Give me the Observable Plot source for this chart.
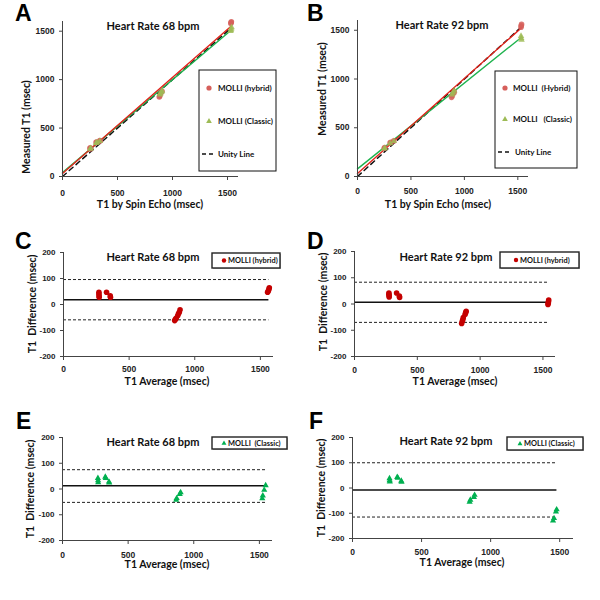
<!DOCTYPE html>
<html><head><meta charset="utf-8">
<script src="https://cdn.jsdelivr.net/npm/d3@7"></script>
<script src="https://cdn.jsdelivr.net/npm/@observablehq/plot@0.6"></script>
<style>
body{margin:0;background:#fff;}
#fig{position:relative;width:600px;height:600px;overflow:hidden;background:#fff;}
.panel{position:absolute;}
#overlay{position:absolute;left:0;top:0;pointer-events:none;}
#overlay text{white-space:pre;}
.letter{font-family:"Liberation Sans",Arial,sans-serif;font-weight:bold;font-size:23px;fill:#000;}
.title{font-family:Lato,"Open Sans",sans-serif;font-weight:bold;font-size:11px;fill:#111;text-anchor:middle;}
.axt{font-family:Lato,"Open Sans",sans-serif;font-weight:bold;font-size:10.5px;fill:#111;text-anchor:middle;}
.leg{font-family:Lato,"Open Sans",sans-serif;font-weight:bold;font-size:8px;fill:#111;}
.legs{font-family:Lato,"Open Sans",sans-serif;font-weight:bold;font-size:7.4px;fill:#111;}
</style>
</head><body>
<div id="fig"></div>
<script>
// ---------- shared ticks ----------
const ticksT1 = [0, 500, 1000, 1500];
const ticksDiff = [-200, -100, 0, 100, 200];

// ---------- Panel A: 68 bpm, measured vs spin echo ----------
const hybridA = [[250,290],[253,295],[256,285],[305,352],[312,355],[340,370],[344,368],[880,820],[884,830],[895,862],[905,880],[1530,1580],[1533,1590],[1535,1598]];
const classicA = [[252,285],[256,292],[305,345],[315,350],[340,365],[885,845],[890,855],[900,870],[905,885],[1528,1500],[1531,1512],[1534,1525],[1537,1540]];
const fitSeriesA = ["hybrid", "classic"];
const fitInterceptA = [30, 40];
const fitSlopeA = [0.992, 0.959];
const fitEndA = 1535;
const unityA = [0, 1530];

// ---------- Panel B: 92 bpm ----------
const hybridB = [[250,290],[255,296],[305,345],[312,350],[340,365],[880,812],[885,825],[900,855],[905,870],[1530,1532],[1532,1545],[1535,1560]];
const classicB = [[250,285],[256,290],[305,340],[340,362],[885,840],[895,860],[905,880],[1530,1440],[1532,1420],[1535,1402]];
const fitSeriesB = ["hybrid", "classic"];
const fitInterceptB = [30, 78];
const fitSlopeB = [0.975, 0.88];
const fitEndB = 1535;
const unityB = [0, 1530];

// ---------- Panel C: Bland-Altman hybrid 68 bpm ----------
const avgC  = [270, 270, 271, 272, 328, 356, 358, 847, 853, 858, 870, 876, 882, 888, 1555, 1560, 1565, 1568];
const diffC = [ 47,  40,  33,  28,  47,  33,  28, -62, -57, -53, -43, -36, -30, -20,   47,   52,   58,   64];
const statsC = {mean: 18, upper: 96, lower: -59, end: 1565};

// ---------- Panel D: Bland-Altman hybrid 92 bpm ----------
const avgD  = [274, 274, 275, 276, 335, 357, 359, 853, 858, 862, 866, 880, 885, 889, 1540, 1542, 1544, 1546];
const diffD = [ 42,  37,  31,  27,  42,  30,  25, -74, -66, -60, -52, -40, -33, -28,   -2,    3,    9,   15];
const statsD = {mean: 7, upper: 83, lower: -70, end: 1540};

// ---------- Panel E: Bland-Altman classic 68 bpm ----------
const avgE  = [270, 271, 272, 326, 330, 354, 356, 866, 870, 893, 900, 1522, 1526, 1537, 1548];
const diffE = [ 42,  33,  25,  47,  42,  28,  24, -43, -36, -20, -13,  -37,  -26,   -4,   14];
const statsE = {mean: 13, upper: 75, lower: -52, end: 1550};

// ---------- Panel F: Bland-Altman classic 92 bpm ----------
const avgF  = [268, 269, 270, 324, 328, 353, 355, 848, 853, 879, 884, 1452, 1459, 1473, 1478];
const diffF = [ 38,  30,  25,  43,  40,  28,  24, -55, -47, -36, -28, -130, -120,  -94,  -85];
const statsF = {mean: -8, upper: 100, lower: -115, end: 1480};

// ---------- colours ----------
const colHybridPt = "#d65f5b";
const colClassicPt = "#9dbb55";
const colHybridLine = "#e2231a";
const colClassicLine = "#1fb34f";
const colBAHybrid = "#c40000";
const colBAClassic = "#00b050";

const fig = document.getElementById("fig");
const plainFmt = d => String(d);

function place(svg, left, top) {
  const div = document.createElement("div");
  div.className = "panel";
  div.style.left = left + "px";
  div.style.top = top + "px";
  div.appendChild(svg);
  fig.appendChild(div);
}

function baseStyle() {
  return {fontFamily: "'Liberation Sans', Arial, sans-serif", fontSize: "8.5px", fontWeight: "bold", color: "#222", background: "transparent", overflow: "visible"};
}

function fitLines(series, intercepts, slopes, xEnd) {
  const out = [];
  series.forEach((s, i) => {
    [0, xEnd].forEach(x => out.push({series: s, x, y: intercepts[i] + slopes[i] * x}));
  });
  return out;
}

function scatterPanel(cfg) {
  const lines = fitLines(cfg.fitSeries, cfg.fitIntercept, cfg.fitSlope, cfg.fitEnd);
  const unity = cfg.unity.map(v => ({x: v, y: v}));
  return Plot.plot({
    width: cfg.width, height: cfg.height,
    marginLeft: cfg.ml, marginRight: cfg.mr, marginTop: cfg.mt, marginBottom: cfg.mb,
    x: {domain: [0, 1600]}, y: {domain: [0, 1600]},
    style: baseStyle(),
    marks: [
      Plot.line(unity, {x: "x", y: "y", stroke: "#111", strokeWidth: 1.5, strokeDasharray: "5,4"}),
      Plot.line(lines.filter(d => d.series === "classic"), {x: "x", y: "y", stroke: colClassicLine, strokeWidth: 1.4}),
      Plot.line(lines.filter(d => d.series === "hybrid"), {x: "x", y: "y", stroke: colHybridLine, strokeWidth: 1.4}),
      Plot.dot(cfg.hybrid, {x: d => d[0], y: d => d[1], r: 2.8, fill: colHybridPt, fillOpacity: 0.85}),
      Plot.dot(cfg.classic, {x: d => d[0], y: d => d[1], r: 2.4, symbol: "triangle", fill: colClassicPt, fillOpacity: 0.85}),
      Plot.ruleX([0], {stroke: "#444"}),
      Plot.ruleY([0], {stroke: "#444"}),
      Plot.axisY({ticks: ticksT1, tickFormat: plainFmt, tickSize: 3, tickPadding: 5, label: null, stroke: "#444"}),
      Plot.axisX({ticks: ticksT1, tickFormat: plainFmt, tickSize: 4, tickPadding: cfg.xPad, label: null, stroke: "#444"})
    ]
  });
}

function baPanel(cfg) {
  const pts = cfg.avg.map((a, i) => ({a, d: cfg.diff[i]}));
  const st = cfg.stats;
  const dotOpts = cfg.kind === "hybrid"
    ? {r: 2.8, fill: colBAHybrid}
    : {r: 2.3, symbol: "triangle", fill: colBAClassic};
  return Plot.plot({
    width: cfg.width, height: cfg.height,
    marginLeft: cfg.ml, marginRight: cfg.mr, marginTop: cfg.mt, marginBottom: cfg.mb,
    x: {domain: [0, 1600]}, y: {domain: [-200, 200]},
    style: baseStyle(),
    marks: [
      Plot.ruleY([st.upper, st.lower], {x1: 0, x2: st.end, stroke: "#222", strokeWidth: 1, strokeDasharray: "3,2"}),
      Plot.ruleY([st.mean], {x1: 0, x2: st.end, stroke: "#111", strokeWidth: 1.5}),
      Plot.dot(pts, {x: "a", y: "d", ...dotOpts}),
      Plot.ruleX([0], {stroke: "#444"}),
      Plot.ruleY([-200], {stroke: "#444"}),
      Plot.axisY({ticks: ticksDiff, tickFormat: plainFmt, tickSize: 3, tickPadding: 5, label: null, stroke: "#444", fontSize: 8}),
      Plot.axisX({ticks: ticksT1, tickFormat: plainFmt, tickSize: 4, tickPadding: cfg.xPad, label: null, stroke: "#444"})
    ]
  });
}

place(scatterPanel({width: 300, height: 215, ml: 62, mr: 62, mt: 21, mb: 39, xPad: 9,
  hybrid: hybridA, classic: classicA, fitSeries: fitSeriesA, fitIntercept: fitInterceptA, fitSlope: fitSlopeA, fitEnd: fitEndA, unity: unityA}), 0, 0);
place(scatterPanel({width: 300, height: 215, ml: 57, mr: 72, mt: 20, mb: 39, xPad: 7,
  hybrid: hybridB, classic: classicB, fitSeries: fitSeriesB, fitIntercept: fitInterceptB, fitSlope: fitSlopeB, fitEnd: fitEndB, unity: unityB}), 300, 0);
place(baPanel({width: 300, height: 160, ml: 63, mr: 27, mt: 22, mb: 34, xPad: 5, avg: avgC, diff: diffC, stats: statsC, kind: "hybrid"}), 0, 230);
place(baPanel({width: 300, height: 160, ml: 54, mr: 45, mt: 21, mb: 34, xPad: 6, avg: avgD, diff: diffD, stats: statsD, kind: "hybrid"}), 300, 230);
place(baPanel({width: 300, height: 160, ml: 62, mr: 28, mt: 22, mb: 35, xPad: 7, avg: avgE, diff: diffE, stats: statsE, kind: "classic"}), 0, 415);
place(baPanel({width: 300, height: 160, ml: 52, mr: 27, mt: 22, mb: 37, xPad: 6, avg: avgF, diff: diffF, stats: statsF, kind: "classic"}), 300, 415);

// ---------- overlay: panel letters, titles, axis titles, legends ----------
const NS = "http://www.w3.org/2000/svg";
const ov = document.createElementNS(NS, "svg");
ov.setAttribute("id", "overlay");
ov.setAttribute("width", 600);
ov.setAttribute("height", 600);
fig.appendChild(ov);

function el(tag, attrs, text) {
  const e = document.createElementNS(NS, tag);
  for (const k in attrs) e.setAttribute(k, attrs[k]);
  if (text != null) e.textContent = text;
  ov.appendChild(e);
  return e;
}
function tri(cx, cy, s, fill) {
  el("path", {d: `M${cx},${cy - s}L${cx + s * 0.95},${cy + s * 0.65}L${cx - s * 0.95},${cy + s * 0.65}Z`, fill});
}

const letters = [["A", 15, 21], ["B", 307, 21], ["C", 15, 249], ["D", 307, 249], ["E", 16, 429], ["F", 309, 429]];
letters.forEach(([t, x, y]) => el("text", {x, y, class: "letter"}, t));

const titles = [["Heart Rate 68 bpm", 153, 30], ["Heart Rate 92 bpm", 442, 29], ["Heart Rate 68 bpm", 153, 261],
  ["Heart Rate 92 bpm", 446, 261], ["Heart Rate 68 bpm", 153, 446], ["Heart Rate 92 bpm", 446, 445]];
titles.forEach(([t, x, y]) => el("text", {x, y, class: "title"}, t));

const xTitles = [["T1 by Spin Echo (msec)", 150, 208], ["T1 by Spin Echo (msec)", 438, 208], ["T1 Average (msec)", 167, 385],
  ["T1 Average (msec)", 455, 385], ["T1 Average (msec)", 167, 568], ["T1 Average (msec)", 462, 566]];
xTitles.forEach(([t, x, y]) => el("text", {x, y, class: "axt"}, t));

const yTitles = [["Measured T1 (msec)", 30, 127], ["Measured T1 (msec)", 326, 89], ["T1  Difference (msec)", 36, 304],
  ["T1  Difference (msec)", 327, 302], ["T1  Difference (msec)", 34, 489], ["T1  Difference (msec)", 325, 488]];
yTitles.forEach(([t, x, y]) => el("text", {x: 0, y: 0, class: "axt", transform: `translate(${x},${y}) rotate(-90)`}, t));

// legend A
el("rect", {x: 199, y: 70, width: 77, height: 101, fill: "#fff", stroke: "#111", "stroke-width": 1});
el("circle", {cx: 209, cy: 88, r: 2.6, fill: colHybridPt});
el("text", {x: 218, y: 91, class: "leg"}, "MOLLI (hybrid)");
tri(209, 121, 3, colClassicPt);
el("text", {x: 218, y: 124, class: "leg"}, "MOLLI (Classic)");
el("line", {x1: 202, x2: 213, y1: 154, y2: 154, stroke: "#111", "stroke-width": 1.5, "stroke-dasharray": "4,3"});
el("text", {x: 218, y: 157, class: "leg"}, "Unity Line");

// legend B
el("rect", {x: 495, y: 71, width: 82, height: 97, fill: "#fff", stroke: "#111", "stroke-width": 1});
el("circle", {cx: 505, cy: 88, r: 2.6, fill: colHybridPt});
el("text", {x: 513, y: 91, class: "leg"}, "MOLLI  (Hybrid)");
tri(505, 119, 3, colClassicPt);
el("text", {x: 513, y: 122, class: "leg"}, "MOLLI   (Classic)");
el("line", {x1: 498, x2: 510, y1: 152, y2: 152, stroke: "#111", "stroke-width": 1.5, "stroke-dasharray": "4,3"});
el("text", {x: 515, y: 155, class: "leg"}, "Unity Line");

// legends C-F
function smallLegend(x, y, w, h, kind, symX, textX, label) {
  el("rect", {x: x + 1, y: y + 1, width: w, height: h, fill: "#bbb"});
  el("rect", {x, y, width: w, height: h, fill: "#fff", stroke: "#222", "stroke-width": 1.4});
  const cy = y + h / 2;
  if (kind === "hybrid") el("circle", {cx: symX, cy, r: 2.2, fill: colBAHybrid});
  else tri(symX, cy, 2.6, colBAClassic);
  el("text", {x: textX, y: cy + 2.7, class: "legs"}, label);
}
smallLegend(212, 253, 68, 15, "hybrid", 224, 228, "MOLLI (hybrid)");
smallLegend(500, 252, 79, 16, "hybrid", 516, 520, "MOLLI (hybrid)");
smallLegend(212, 437, 75, 12, "classic", 224, 228, "MOLLI  (Classic)");
smallLegend(507, 437, 76, 13, "classic", 520, 524, "MOLLI (Classic)");
</script>
</body></html>
